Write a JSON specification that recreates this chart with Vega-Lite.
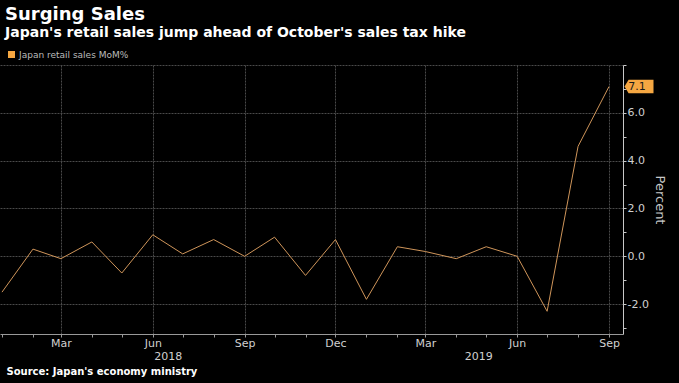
{
  "$schema": "https://vega.github.io/schema/vega-lite/v6.json",
  "width": 623,
  "height": 269,
  "autosize": {"type": "none"},
  "padding": {"left": 0, "top": 65, "right": 56, "bottom": 49},
  "background": "#000000",
  "config": {"view": {"stroke": null}, "font": "DejaVu Sans"},
  "title": {
    "text": "Surging Sales",
    "subtitle": "Japan's retail sales jump ahead of October's sales tax hike",
    "anchor": "start",
    "frame": "group",
    "dx": 5,
    "offset": 10,
    "font": "DejaVu Sans",
    "fontSize": 18,
    "fontWeight": "bold",
    "color": "#ffffff",
    "subtitleFont": "DejaVu Sans",
    "subtitleFontSize": 14,
    "subtitleFontWeight": "bold",
    "subtitleColor": "#ffffff",
    "subtitlePadding": 2
  },
  "data": {
    "values": [
      {"date": "2018-01-01", "value": -1.5},
      {"date": "2018-02-01", "value": 0.3},
      {"date": "2018-03-01", "value": -0.1},
      {"date": "2018-04-01", "value": 0.6},
      {"date": "2018-05-01", "value": -0.7},
      {"date": "2018-06-01", "value": 0.9},
      {"date": "2018-07-01", "value": 0.1},
      {"date": "2018-08-01", "value": 0.7},
      {"date": "2018-09-01", "value": 0.0},
      {"date": "2018-10-01", "value": 0.8},
      {"date": "2018-11-01", "value": -0.8},
      {"date": "2018-12-01", "value": 0.7},
      {"date": "2019-01-01", "value": -1.8},
      {"date": "2019-02-01", "value": 0.4},
      {"date": "2019-03-01", "value": 0.2},
      {"date": "2019-04-01", "value": -0.1},
      {"date": "2019-05-01", "value": 0.4},
      {"date": "2019-06-01", "value": 0.0},
      {"date": "2019-07-01", "value": -2.3},
      {"date": "2019-08-01", "value": 4.6},
      {"date": "2019-09-01", "value": 7.1}
    ]
  },
  "resolve": {"axis": {"x": "independent", "y": "independent"}},
  "layer": [
    {
      "mark": {"type": "line", "strokeWidth": 1},
      "encoding": {
        "x": {
          "field": "date",
          "type": "temporal",
          "scale": {
            "type": "utc",
            "domain": [
              {"year": 2017, "month": 12, "date": 30, "utc": true},
              {"year": 2019, "month": 9, "date": 15, "utc": true}
            ]
          },
          "axis": {
            "orient": "bottom",
            "title": null,
            "tickCount": {"interval": "month", "step": 1},
            "labelExpr": "utcmonth(datum.value) % 3 == 2 ? utcFormat(datum.value, '%b') : ''",
            "labelFlush": false,
            "labelOverlap": false,
            "labelBound": false,
            "labelFont": "DejaVu Sans",
            "labelFontSize": 11,
            "labelColor": "#d0d0d0",
            "labelPadding": 0,
            "tickSize": 3,
            "tickColor": "#999999",
            "domainColor": "#999999",
            "grid": true,
            "gridColor": "#4a4a4a",
            "gridDash": [2, 1],
            "gridOpacity": {"condition": {"test": "utcmonth(datum.value) % 3 == 2", "value": 1}, "value": 0}
          }
        },
        "y": {
          "field": "value",
          "type": "quantitative",
          "scale": {"domain": [-3.25, 8], "nice": false, "zero": false},
          "axis": {
            "orient": "right",
            "values": [-2, 0, 2, 4, 6, 8],
            "labelExpr": "datum.value < 8 ? datum.value + '.0' : ''",
            "labelFlush": false,
            "labelOverlap": false,
            "labelFont": "DejaVu Sans",
            "labelFontSize": 11,
            "labelColor": "#d0d0d0",
            "labelPadding": 1,
            "tickSize": 3,
            "tickColor": "#c8c8c8",
            "domainColor": "#c8c8c8",
            "grid": true,
            "gridColor": "#4a4a4a",
            "gridDash": [2, 1],
            "title": "Percent",
            "titleFont": "DejaVu Sans",
            "titleFontSize": 13,
            "titleFontWeight": "normal",
            "titleColor": "#c8c8c8",
            "titlePadding": 4
          }
        },
        "color": {
          "datum": "Japan retail sales MoM%",
          "scale": {"range": ["#cf955a"]},
          "legend": {
            "title": null,
            "orient": "none",
            "legendX": 7,
            "legendY": -15,
            "padding": 0,
            "symbolSize": 49,
            "labelOffset": 3,
            "labelFont": "DejaVu Sans",
            "labelFontSize": 9,
            "labelColor": "#bbbbbb",
            "encode": {
              "symbols": {
                "update": {
                  "fill": {"value": "#f5a742"},
                  "stroke": {"value": "#f5a742"},
                  "strokeWidth": {"value": 0},
                  "shape": {"value": "square"}
                }
              }
            }
          }
        }
      }
    },
    {
      "transform": [
        {"joinaggregate": [{"op": "max", "field": "date", "as": "last"}]},
        {"filter": "time(datum.date) == time(datum.last)"}
      ],
      "mark": {
        "type": "point",
        "shape": "M-1,0L-0.72,-0.46L1,-0.46L1,0.46L-0.72,0.46Z",
        "filled": true,
        "size": 841,
        "xOffset": 30,
        "color": "#f5a742",
        "opacity": 1
      },
      "encoding": {
        "x": {"field": "date", "type": "temporal", "axis": null},
        "y": {
          "field": "value",
          "type": "quantitative",
          "axis": {
            "orient": "right",
            "values": [-3, -1, 1, 3, 5, 7],
            "labels": false,
            "grid": false,
            "domain": false,
            "title": null,
            "tickSize": 3,
            "tickColor": "#c8c8c8"
          }
        }
      }
    },
    {
      "transform": [
        {"joinaggregate": [{"op": "max", "field": "date", "as": "last"}]},
        {"filter": "time(datum.date) == time(datum.last)"}
      ],
      "mark": {"type": "text", "xOffset": 28, "color": "#1a1a1a", "fontSize": 11, "font": "DejaVu Sans"},
      "encoding": {
        "x": {
          "field": "date",
          "type": "temporal",
          "axis": {
            "orient": "bottom",
            "values": [
              {"year": 2018, "month": 6, "date": 16, "utc": true},
              {"year": 2019, "month": 4, "date": 23, "utc": true}
            ],
            "labelExpr": "utcFormat(datum.value, '%Y')",
            "domain": false,
            "ticks": false,
            "grid": false,
            "labelFlush": false,
            "labelOverlap": false,
            "labelFont": "DejaVu Sans",
            "labelFontSize": 11,
            "labelColor": "#d0d0d0",
            "labelPadding": 16,
            "title": "Source: Japan's economy ministry",
            "titleFont": "DejaVu Sans",
            "titleFontSize": 10,
            "titleFontWeight": "bold",
            "titleColor": "#ffffff",
            "titleAnchor": "start",
            "titleAlign": "left",
            "titleX": 6,
            "titlePadding": 5
          }
        },
        "y": {"field": "value", "type": "quantitative", "axis": null},
        "text": {"field": "value", "type": "quantitative", "format": ".1f"}
      }
    }
  ]
}
